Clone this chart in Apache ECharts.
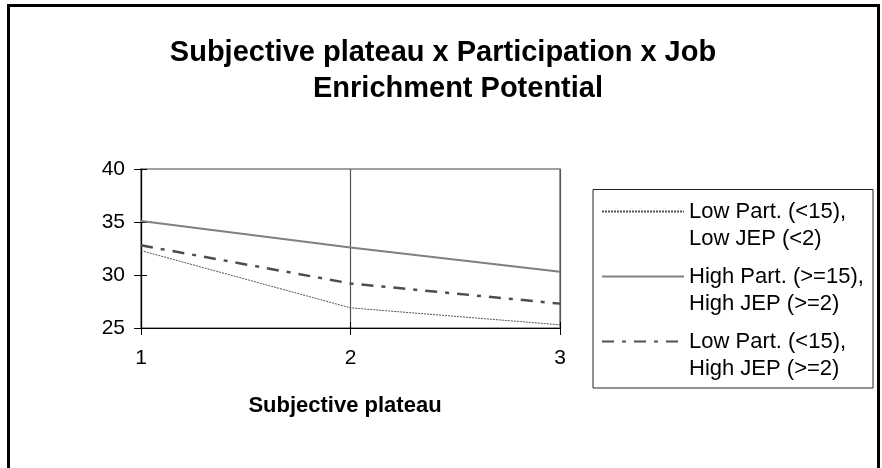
<!DOCTYPE html>
<html>
<head>
<meta charset="utf-8">
<script src="https://cdn.jsdelivr.net/npm/echarts@6/dist/echarts.min.js"></script>
<style>html,body{margin:0;padding:0;background:#fff}#c{width:882px;height:468px}</style>
</head>
<body>
<div id="c"></div>
<script>
var titleLines = ['Subjective plateau x Participation x Job', 'Enrichment Potential'];
var xTitle = 'Subjective plateau';
var categories = ['1', '2', '3'];
var seriesNames = ['Low Part. (<15),\nLow JEP (<2)', 'High Part. (>=15),\nHigh JEP (>=2)', 'Low Part. (<15),\nHigh JEP (>=2)'];
var lowPartLowJEP = [32.3, 26.9, 25.3];
var highPartHighJEP = [35.1, 32.6, 30.3];
var lowPartHighJEP = [32.8, 29.2, 27.3];
var yMin = 25, yMax = 40, yStep = 5;

var FONT = 'Liberation Sans, Arial, sans-serif';
var chart = echarts.init(document.getElementById('c'), null, {renderer: 'canvas'});
var yBase = {type: 'value', min: yMin, max: yMax, interval: yStep, splitLine: {show: false}};
var xBase = {type: 'category', data: categories, boundaryGap: false};
chart.setOption({
  animation: false,
  backgroundColor: '#fff',
  grid: {left: 141, right: 322, top: 169, bottom: 140, show: true, borderColor: '#808080', borderWidth: 1.5, backgroundColor: 'transparent'},
  xAxis: [
    Object.assign({}, xBase, {
      position: 'bottom',
      axisLine: {show: true, lineStyle: {color: '#000', width: 1.2}},
      axisTick: {show: true, inside: false, length: 7, lineStyle: {color: '#000'}},
      axisLabel: {color: '#000', fontSize: 21, fontFamily: FONT, margin: 20},
      splitLine: {show: true, lineStyle: {color: '#555', width: 1.2}},
      name: xTitle, nameLocation: 'middle', nameGap: 67,
      nameTextStyle: {color: '#000', fontSize: 22, fontWeight: 'bold', fontFamily: FONT, padding: [0, 11, 0, 0]}
    }),
    Object.assign({}, xBase, {
      position: 'bottom',
      axisLine: {show: false},
      axisTick: {show: true, inside: true, length: 6, lineStyle: {color: '#000'}},
      axisLabel: {show: false},
      splitLine: {show: false}
    })
  ],
  yAxis: [
    Object.assign({}, yBase, {
      position: 'left',
      axisLine: {show: true, lineStyle: {color: '#000', width: 1.2}},
      axisTick: {show: true, inside: false, length: 7, lineStyle: {color: '#000'}},
      axisLabel: {color: '#000', fontSize: 21, fontFamily: FONT, margin: 16}
    }),
    Object.assign({}, yBase, {
      position: 'left',
      axisLine: {show: false},
      axisTick: {show: true, inside: true, length: 6, lineStyle: {color: '#000'}},
      axisLabel: {show: false}
    })
  ],
  legend: {
    orient: 'vertical', left: 601, top: 171, padding: 0, itemGap: -16,
    itemWidth: 82, itemHeight: 14, selectedMode: false,
    data: seriesNames,
    itemStyle: {opacity: 0, borderWidth: 0},
    formatter: function (name) { return '\n' + name; },
    textStyle: {color: '#000', fontSize: 22, fontFamily: FONT, lineHeight: 27}
  },
  series: [
    {name: seriesNames[0], type: 'line', data: lowPartLowJEP, symbol: 'none', xAxisIndex: 0, yAxisIndex: 0,
      lineStyle: {color: '#555', width: 1, type: [2, 1]}, itemStyle: {color: '#555'}},
    {name: seriesNames[1], type: 'line', data: highPartHighJEP, symbol: 'none', xAxisIndex: 0, yAxisIndex: 0,
      lineStyle: {color: '#808080', width: 2}, itemStyle: {color: '#808080'}},
    {name: seriesNames[2], type: 'line', data: lowPartHighJEP, symbol: 'none', xAxisIndex: 0, yAxisIndex: 0,
      lineStyle: {color: '#4d4d4d', width: 2.5, type: [12, 8, 4, 8]}, itemStyle: {color: '#4d4d4d'}}
  ],
  graphic: [
    {type: 'rect', z: 100, silent: true, shape: {x: 8.5, y: 5.5, width: 870, height: 520},
      style: {fill: 'none', stroke: '#000', lineWidth: 3}},
    {type: 'rect', z: 100, silent: true, shape: {x: 593, y: 189.5, width: 280, height: 198.5},
      style: {fill: 'none', stroke: '#222', lineWidth: 1}},
    {type: 'text', z: 100, silent: true, x: 443, y: 53,
      style: {text: titleLines[0], font: 'bold 29px ' + FONT, fill: '#000', textAlign: 'center', textVerticalAlign: 'middle'}},
    {type: 'text', z: 100, silent: true, x: 458, y: 88.5,
      style: {text: titleLines[1], font: 'bold 29px ' + FONT, fill: '#000', textAlign: 'center', textVerticalAlign: 'middle'}}
  ]
});
</script>
</body>
</html>
